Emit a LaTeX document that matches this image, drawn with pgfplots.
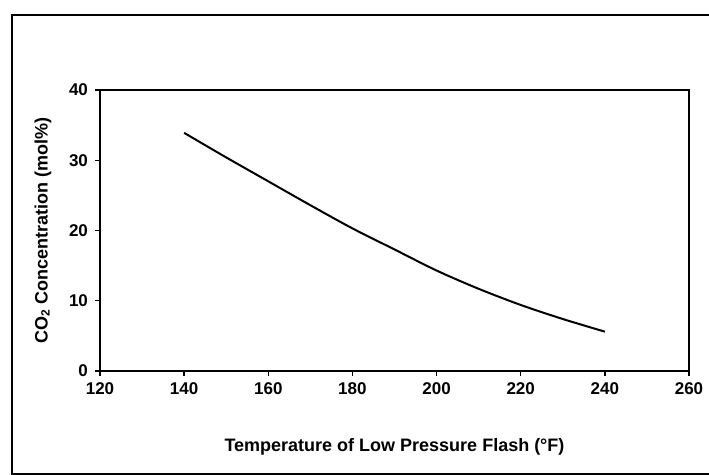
\documentclass[border=0pt]{standalone}
\usepackage{pgfplots}
\pgfplotsset{compat=1.18}
\usepackage{fontspec}
\setmainfont{Liberation Sans}
\begin{document}
\begin{tikzpicture}[x=0.5pt,y=0.5pt]
\useasboundingbox (0,0) rectangle (709,475);
\draw[line width=1pt] (709,460) -- (12,460) -- (12,1) -- (709,1);
\begin{axis}[
  at={(100pt*0.5,104pt*0.5)}, anchor=south west,
  scale only axis, width=294.5pt, height=140.5pt,
  xmin=120, xmax=260, ymin=0, ymax=40,
  xtick={120,140,...,260}, ytick={0,10,...,40},
  axis line style={line width=0.9pt},
  tick style={black, line width=0.7pt},
  tick align=outside, major tick length=2.5pt,
  xtick pos=bottom, ytick pos=left,
  /pgf/number format/assume math mode=true,
  tick label style={font=\fontsize{8.5}{10}\selectfont\bfseries},
  label style={font=\fontsize{9}{11}\selectfont\bfseries},
  xlabel={Temperature of Low Pressure Flash (°F)},
  ylabel={CO\textsubscript{2} Concentration (mol\%)},
  xlabel style={yshift=-15pt},
  ylabel style={yshift=2pt},
]
\addplot[black, line width=1pt, smooth] coordinates {
(140,33.9) (150,30.4) (160,27.0) (170,23.6) (180,20.3) (190,17.3)
(200,14.3) (210,11.7) (220,9.4) (230,7.4) (240,5.6)
};
\end{axis}
\end{tikzpicture}
\end{document}
